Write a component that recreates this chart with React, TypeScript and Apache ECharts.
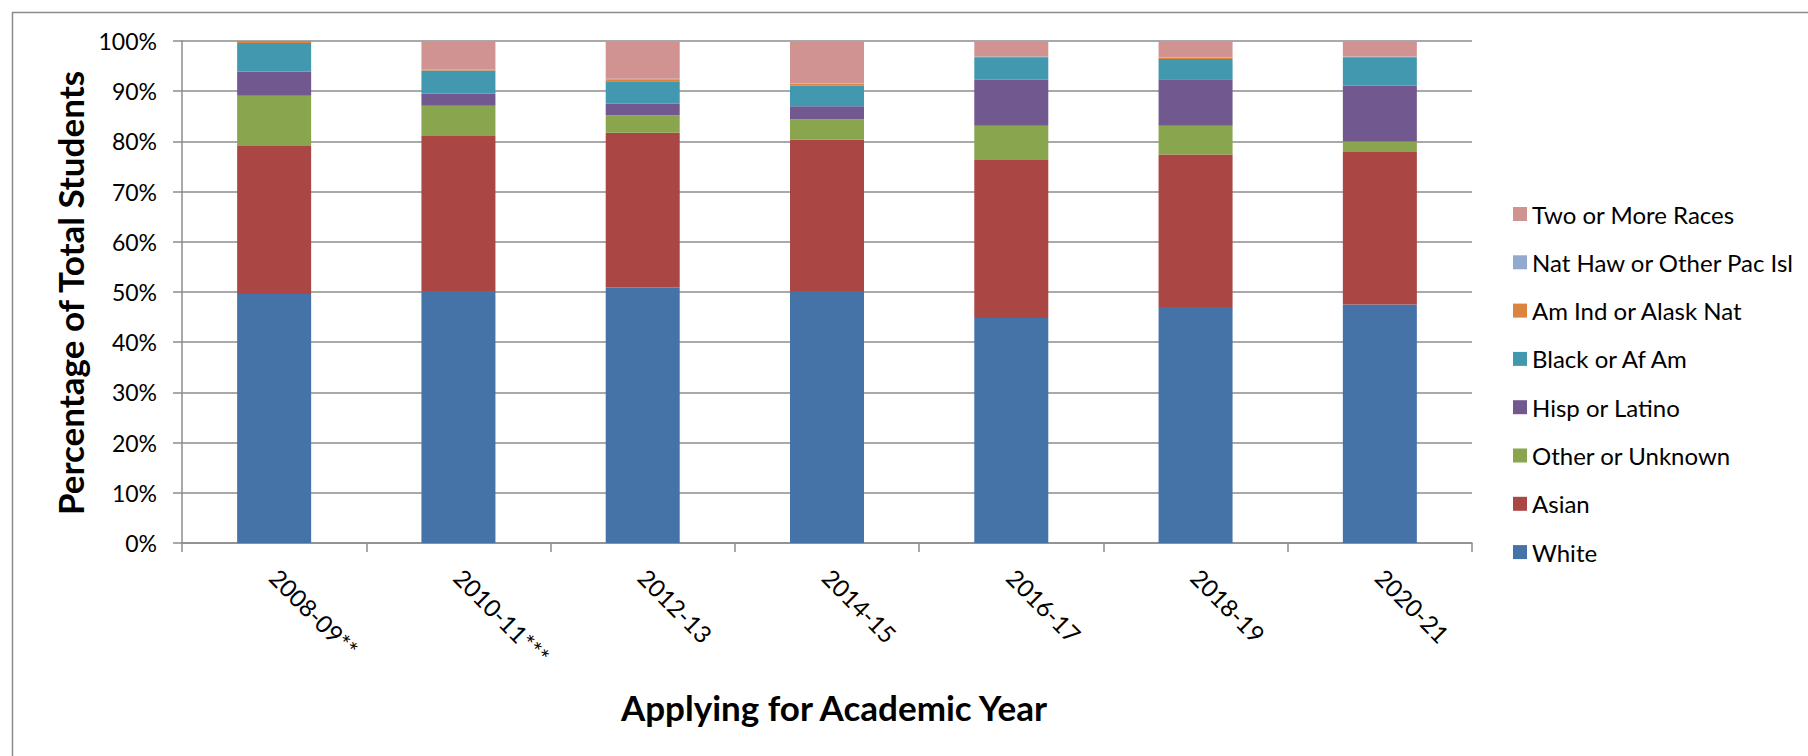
import React, { useEffect, useRef } from "react";
import * as echarts from "echarts";

const categories = ["2008-09**", "2010-11***", "2012-13", "2014-15", "2016-17", "2018-19", "2020-21"];
const white = [49.6, 50.2, 50.9, 50.2, 44.8, 47.0, 47.5];
const asian = [29.5, 30.9, 30.8, 30.2, 31.5, 30.4, 30.4];
const otherUnknown = [10.0, 6.0, 3.5, 4.0, 6.8, 5.7, 2.1];
const hispLatino = [4.8, 2.4, 2.3, 2.6, 9.2, 9.3, 11.1];
const blackAfAm = [5.7, 4.6, 4.5, 4.1, 4.3, 4.0, 5.5];
const amIndAlaskNat = [0.4, 0.2, 0.4, 0.4, 0.3, 0.2, 0.2];
const natHawPacIsl = [0, 0.1, 0.1, 0.1, 0.1, 0.1, 0.1];
const twoOrMore = [0, 5.6, 7.5, 8.4, 3.0, 3.3, 3.1];

const seriesDefs = [
  { name: "White", data: white, color: "#4572A7" },
  { name: "Asian", data: asian, color: "#AA4643" },
  { name: "Other or Unknown", data: otherUnknown, color: "#89A54E" },
  { name: "Hisp or Latino", data: hispLatino, color: "#71588F" },
  { name: "Black or Af Am", data: blackAfAm, color: "#4198AF" },
  { name: "Am Ind or Alask Nat", data: amIndAlaskNat, color: "#DB843D" },
  { name: "Nat Haw or Other Pac Isl", data: natHawPacIsl, color: "#93A9CF" },
  { name: "Two or More Races", data: twoOrMore, color: "#D19392" },
];

const FONT = "Lato, 'Noto Sans', sans-serif";
const GRID_COLOR = "#8c8c8c";

export default function App() {
  const ref = useRef<HTMLDivElement>(null);
  useEffect(() => {
    if (!ref.current) return;
    const chart = echarts.init(ref.current, null, { renderer: "svg" });
    chart.setOption({
      animation: false,
      backgroundColor: "#ffffff",
      textStyle: { fontFamily: FONT },
      grid: { left: 182, right: 336, top: 41, bottom: 213, containLabel: false },
      legend: {
        orient: "vertical",
        left: 1508,
        top: 197,
        itemWidth: 14,
        itemHeight: 14,
        itemGap: 24.3,
        icon: "rect",
        data: seriesDefs.map((s) => s.name).reverse(),
        textStyle: { fontFamily: FONT, fontSize: 24, color: "#000", lineHeight: 24 },
      },
      xAxis: {
        type: "category",
        data: categories,
        axisLine: { lineStyle: { color: GRID_COLOR, width: 1.5 } },
        axisTick: { show: true, length: 9, lineStyle: { color: GRID_COLOR, width: 1.5 } },
        axisLabel: { rotate: -45, fontSize: 24, color: "#000", margin: 30, fontFamily: FONT },
      },
      yAxis: {
        type: "value",
        min: 0,
        max: 100,
        interval: 10,
        axisLine: { show: true, lineStyle: { color: GRID_COLOR, width: 1.5 } },
        axisTick: { show: true, length: 9, lineStyle: { color: GRID_COLOR, width: 1.5 } },
        splitLine: { lineStyle: { color: GRID_COLOR, width: 1.5 } },
        axisLabel: { formatter: "{value}%", fontSize: 23, color: "#000", margin: 25, fontFamily: FONT },
      },
      series: seriesDefs.map((s) => ({
        name: s.name,
        type: "bar",
        stack: "total",
        barWidth: 74,
        data: s.data,
        itemStyle: { color: s.color },
      })),
      graphic: [
        {
          type: "rect",
          left: 10,
          top: 10,
          shape: { x: 0, y: 0, width: 1820, height: 780 },
          style: { fill: "none", stroke: GRID_COLOR, lineWidth: 1.5 },
          silent: true,
        },
        {
          type: "text",
          x: 70,
          y: 293,
          rotation: Math.PI / 2,
          style: {
            text: "Percentage of Total Students",
            fontFamily: FONT,
            fontSize: 35,
            fontWeight: "bold",
            fill: "#000",
            textAlign: "center",
            textVerticalAlign: "middle",
          },
        },
        {
          type: "text",
          x: 834,
          y: 707,
          style: {
            text: "Applying for Academic Year",
            fontFamily: FONT,
            fontSize: 35,
            fontWeight: "bold",
            fill: "#000",
            textAlign: "center",
            textVerticalAlign: "middle",
          },
        },
      ],
    });
    return () => chart.dispose();
  }, []);
  return (
    <div
      ref={ref}
      style={{ position: "absolute", left: 0, top: 0, width: 1808, height: 756 }}
    />
  );
}
